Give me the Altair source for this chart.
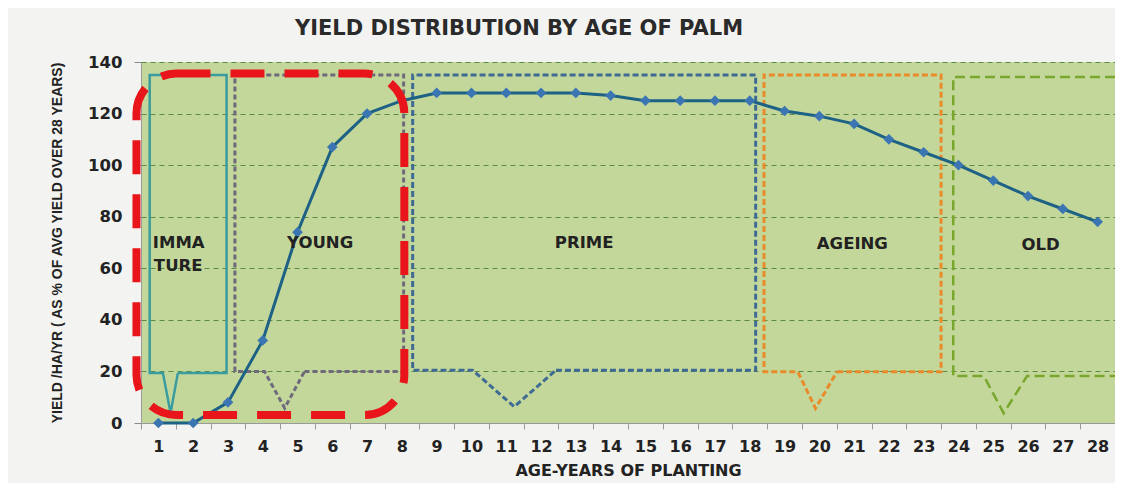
import altair as alt
import pandas as pd

# ---------------- data ----------------
years = list(range(1, 29))
yield_pct = [0, 0, 8, 32, 74, 107, 120, 125, 128, 128, 128, 128, 128, 127,
             125, 125, 125, 125, 121, 119, 116, 110, 105, 100, 94, 88, 83, 78]

phase_names = ["IMMATURE", "YOUNG", "PRIME", "AGEING", "OLD"]
box_left = [0.75, 3.20, 8.31, 18.41, 23.85]
box_right = [2.96, 8.05, 18.17, 23.50, 28.5]
box_top = [135, 135, 135, 135, 134.2]
box_bottom = [19.4, 20, 20.5, 19.9, 18.2]
notch_start = [1.13, 4.05, 10.03, 19.38, 24.73]
notch_tip = [1.35, 4.63, 11.23, 19.89, 25.30]
notch_end = [1.56, 5.20, 12.43, 20.51, 25.97]
notch_depth = [3.9, 5.8, 6.3, 5.7, 3.8]
box_closed = [True, True, True, True, False]

label_text = ["IMMA", "TURE", "YOUNG", "PRIME", "AGEING", "OLD"]
label_x = [0.84, 0.87, 5.65, 13.24, 20.95, 26.36]
label_y = [70, 61, 70, 70, 69.5, 69]

highlight_x = [0.37, 8.07]
highlight_y = [3.1, 135.5]

y_ticks = [0, 20, 40, 60, 80, 100, 120, 140]
x_tick_values = [y - 0.5 for y in years] + [years[-1] + 0.5]

# ---------------- styles ----------------
box_colors = ["#3a9c9e", "#6e6a7c", "#3f6b93", "#e98b2a", "#79a62d"]
box_dash = [[1, 0], [5, 3], [6, 3], [6, 3], [10, 5]]
box_width = [2.5, 3, 3, 3, 2.5]

xs = alt.Scale(domain=[0.5, 28.5], nice=False, zero=False)
ys = alt.Scale(domain=[0, 140], nice=False)

x_axis = alt.Axis(values=x_tick_values,
                  labelExpr="datum.value < 28 ? format(datum.value + 0.5, 'd') : ''",
                  labelOffset=17.39, labelFlush=False, labelOverlap=False,
                  labelBound=False, grid=False, tickSize=6, tickColor="#999999",
                  domainColor="#9a9a9a", labelPadding=9,
                  labelFont="DejaVu Sans", labelFontSize=16, labelFontWeight="bold",
                  labelColor="#222222", titleFont="DejaVu Sans", titleFontSize=16,
                  titleFontWeight="bold", titleColor="#222222", titlePadding=8)
y_axis = alt.Axis(values=y_ticks, grid=True, gridColor="#5a8a43",
                  gridDash=[5, 4], gridWidth=1.2, tickSize=7, tickColor="#8a8a8a",
                  domainColor="#9a9a9a", labelPadding=12, labelOverlap=False,
                  labelFont="DejaVu Sans", labelFontSize=16.5, labelFontWeight="bold",
                  labelColor="#222222", titleFont="Liberation Sans", titleFontSize=14,
                  titleFontWeight="bold", titleColor="#222222", titlePadding=23)

x_title = "AGE-YEARS OF PLANTING"
y_title = "YIELD /HA/YR ( AS % OF AVG YIELD OVER 28 YEARS)"


def X(field):
    return alt.X(field, scale=xs, axis=x_axis, title=x_title)


def Y(field):
    return alt.Y(field, scale=ys, axis=y_axis, title=y_title)


# ---------------- tables & layers ----------------
series = pd.DataFrame({"year": years, "yield": yield_pct})

layers = []
for i, name in enumerate(phase_names):
    L, R, T, B = box_left[i], box_right[i], box_top[i], box_bottom[i]
    if box_closed[i]:
        pts = [(notch_end[i], B), (R, B), (R, T), (L, T), (L, B),
               (notch_start[i], B), (notch_tip[i], notch_depth[i]), (notch_end[i], B)]
    else:
        pts = [(R, T), (L, T), (L, B), (notch_start[i], B),
               (notch_tip[i], notch_depth[i]), (notch_end[i], B), (R, B)]
    df = pd.DataFrame({"x": [p[0] for p in pts], "y": [p[1] for p in pts],
                       "o": list(range(len(pts)))})
    layers.append(
        alt.Chart(df).mark_line(color=box_colors[i], strokeWidth=box_width[i],
                                strokeDash=box_dash[i], clip=True)
        .encode(x=X("x:Q"), y=Y("y:Q"), order="o:O")
    )

line = alt.Chart(series).mark_line(color="#1d6185", strokeWidth=3).encode(
    x=X("year:Q"), y=Y("yield:Q"))
points = alt.Chart(series).mark_point(shape="diamond", filled=True, size=115,
                                      color="#3b76b3", opacity=1).encode(
    x=X("year:Q"), y=Y("yield:Q"))

hl = pd.DataFrame({"x": [highlight_x[0]], "x2": [highlight_x[1]],
                   "y": [highlight_y[0]], "y2": [highlight_y[1]]})
red = alt.Chart(hl).mark_rect(fill="transparent", stroke="#e8161b", strokeWidth=8,
                              strokeDash=[34, 20], cornerRadius=40).encode(
    x=X("x:Q"), x2="x2:Q", y=Y("y:Q"), y2="y2:Q")

labels = pd.DataFrame({"t": label_text, "x": label_x, "y": label_y})
text_left = alt.Chart(labels.iloc[:2]).mark_text(
    align="left", baseline="middle", font="DejaVu Sans", fontSize=16.5,
    fontWeight="bold", color="#222222").encode(
    x=X("x:Q"), y=Y("y:Q"), text="t:N")
text_mid = alt.Chart(labels.iloc[2:]).mark_text(
    align="center", baseline="middle", font="DejaVu Sans", fontSize=16.5,
    fontWeight="bold", color="#222222").encode(
    x=X("x:Q"), y=Y("y:Q"), text="t:N")

chart = alt.layer(*layers, line, points, red, text_left, text_mid).properties(
    width=974, height=361,
    title=alt.TitleParams("YIELD DISTRIBUTION BY AGE OF PALM", font="DejaVu Sans",
                          fontSize=21, fontWeight="bold", color="#2a2a2a",
                          anchor="middle", dx=-109, offset=15),
    autosize=alt.AutoSizeParams(type="none"),
    padding={"left": 133, "top": 54, "right": 0, "bottom": 60},
    background="#f3f3f1",
).configure_view(fill="#c4d79b", stroke=None).configure_axisX(labelOverlap=False)

chart.save("out.html", embed_options={"renderer": "svg", "actions": False})
